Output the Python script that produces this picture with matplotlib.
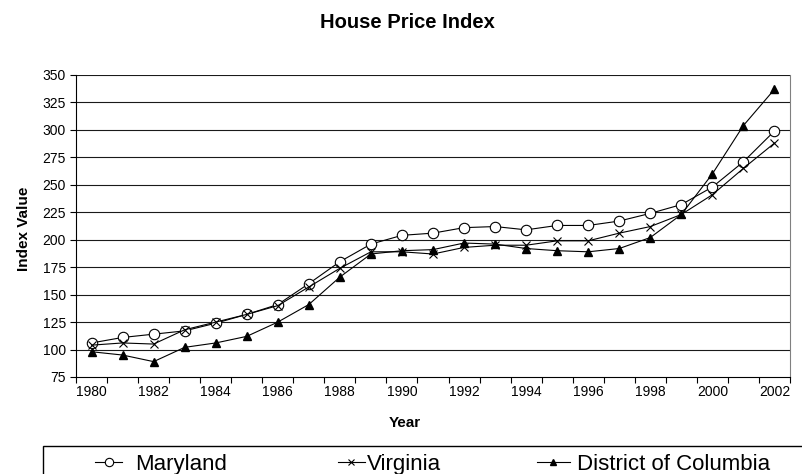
import matplotlib
matplotlib.use("Agg")
import matplotlib.pyplot as plt
from matplotlib.lines import Line2D
from matplotlib.patches import Rectangle
import numpy as np

plt.rcParams['font.family'] = ['Liberation Sans', 'DejaVu Sans']

years = list(range(1980, 2003))
maryland = [106, 111, 114, 117, 124, 132, 141, 160, 180, 196, 204, 206,
            211, 212, 209, 213, 213, 217, 224, 232, 248, 271, 299]
virginia = [104, 106, 105, 118, 125, 132, 140, 157, 174, 189, 189, 187,
            193, 195, 195, 199, 199, 206, 212, 223, 241, 265, 288]
dc = [98, 95, 89, 102, 106, 112, 125, 141, 166, 187, 190, 191,
      197, 196, 192, 190, 189, 192, 202, 223, 260, 304, 337]
series_names = ["Maryland", "Virginia", "District of Columbia"]
y_ticks = list(range(75, 351, 25))

W, H = 803, 474
fig = plt.figure(figsize=(W / 100, H / 100), dpi=100)

def fx(px):
    return px / W

def fy(py):
    return 1 - py / H

ax = fig.add_axes([fx(76), fy(377), fx(790) - fx(76), fy(75) - fy(377)])

x = np.arange(len(years))
styles = [
    dict(marker='o', markersize=7.5, markerfacecolor='white', markeredgecolor='black', markeredgewidth=0.8),
    dict(marker='x', markersize=6, markeredgecolor='black', markeredgewidth=0.8),
    dict(marker='^', markersize=5.5, markerfacecolor='black', markeredgecolor='black'),
]
lines = []
for vals, st in zip([maryland, virginia, dc], styles):
    ln, = ax.plot(x, vals, color='black', linewidth=0.8, zorder=3, **st)
    lines.append(ln)

ax.set_xlim(-0.5, len(years) - 0.5)
ax.set_ylim(75, 350)
ax.set_yticks(y_ticks)
ax.set_yticklabels([str(v) for v in y_ticks], fontsize=10)
ax.tick_params(axis='y', direction='out', length=4.3, width=0.8, pad=3)

ax.set_xticks(np.arange(-0.5, len(years), 1.0))
ax.set_xticklabels([])
ax.tick_params(axis='x', which='major', direction='out', length=4.3, width=0.8)
ax.set_xticks(x[::2], minor=True)
ax.set_xticklabels([str(y) for y in years[::2]], minor=True, fontsize=10)
ax.tick_params(axis='x', which='minor', length=0, pad=6)

for v in y_ticks[1:]:
    ax.axhline(v, color='#1a1a1a', linewidth=0.8, zorder=1)

ax.spines['top'].set_visible(False)
ax.spines['right'].set_color('#808080')
ax.spines['left'].set_color('black')
ax.spines['bottom'].set_color('black')
for s in ax.spines.values():
    s.set_linewidth(0.8)

fig.text(fx(407), fy(28.3), "House Price Index", ha='center', va='baseline',
         fontsize=14.5, fontweight='bold')
fig.text(fx(405), fy(427), "Year", ha='center', va='baseline',
         fontsize=11, fontweight='bold')
fig.text(fx(24), fy(228.5), "Index Value", ha='center', va='center',
         rotation=90, fontsize=11, fontweight='bold')

# Legend box (extends past figure edge)
fig.add_artist(Rectangle((fx(43), fy(490)), fx(830) - fx(43), fy(446) - fy(490),
                         transform=fig.transFigure, facecolor='white',
                         edgecolor='black', linewidth=1.0, clip_on=False))

leg_handles = [(95, 122), (338, 365), (537, 570)]
leg_text_x = [135, 367, 577]
leg_y = 462
for ln, (h0, h1), tx, name, st in zip(lines, leg_handles, leg_text_x, series_names, styles):
    fig.add_artist(Line2D([fx(h0), fx(h1)], [fy(leg_y), fy(leg_y)], transform=fig.transFigure,
                          color='black', linewidth=0.8))
    st2 = dict(st)
    st2['markersize'] = st['markersize'] * 0.8
    fig.add_artist(Line2D([fx((h0 + h1) / 2)], [fy(leg_y)], transform=fig.transFigure,
                          color='black', linestyle='none', **st2))
    fig.text(fx(tx), fy(470), name, ha='left', va='baseline', fontsize=16)

fig.savefig("out.png", dpi=100)
